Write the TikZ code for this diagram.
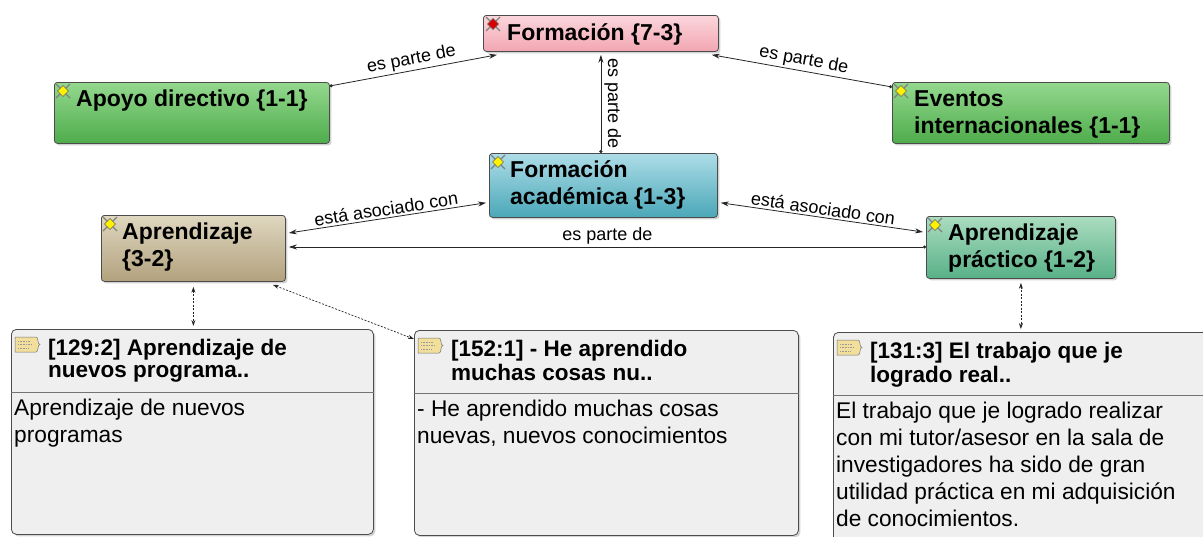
\documentclass[tikz,border=0pt]{standalone}
\usepackage{fontspec}
\setmainfont{Liberation Sans}
\usetikzlibrary{arrows.meta,shadows}
\definecolor{pinkT}{HTML}{FBD6DC}
\definecolor{pinkB}{HTML}{F2A6B2}
\definecolor{greenT}{HTML}{94D88E}
\definecolor{greenB}{HTML}{4EAC4B}
\definecolor{blueT}{HTML}{ADDDE7}
\definecolor{blueB}{HTML}{4AA7B8}
\definecolor{tanT}{HTML}{DFD7C0}
\definecolor{tanB}{HTML}{B2A17D}
\definecolor{seaT}{HTML}{ABDCC0}
\definecolor{seaB}{HTML}{58B188}
\definecolor{quoteG}{HTML}{EFEFEF}
\definecolor{quoteY}{HTML}{F3DF9C}
\newcommand{\codeicon}[2]{%
  \begin{scope}[shift={(#1)}]
    \draw[black!50, line width=1.2pt] (-7,-7) -- (7,7) (7,-7) -- (-7,7);
    \filldraw[fill=#2, draw=black!60, line width=.5pt] (0,-5.5) -- (5.5,0) -- (0,5.5) -- (-5.5,0) -- cycle;
  \end{scope}}
\newcommand{\quoteicon}[1]{%
  \begin{scope}[shift={(#1)}]
    \filldraw[fill=quoteY, draw=black!55, line width=.5pt] (0,0) -- (21,0) .. controls (24,0) and (22,7.5) .. (25,7.5)
      .. controls (22,7.5) and (24,15) .. (21,15) -- (0,15) -- cycle;
    \draw[black!40, line width=.5pt, dash pattern=on .8pt off .8pt] (3,4) -- (15,4) (3,7.5) -- (17,7.5) (3,11) -- (13,11);
  \end{scope}}

\begin{document}
\begin{tikzpicture}[x=1pt, y=-1pt,
    box/.style={draw=black!70, line width=.8pt, rounded corners=3pt, anchor=north west, inner sep=0pt,
      drop shadow={shadow xshift=2pt, shadow yshift=-2pt, opacity=.35}},
    code/.style 2 args={box, top color=#1, bottom color=#2},
    quote/.style={box, rounded corners=5pt, fill=quoteG},
    codetext/.style={anchor=north west, inner sep=0pt, align=left, font=\fontsize{23}{27}\selectfont\bfseries},
    qtitle/.style={anchor=north west, inner sep=0pt, align=left, font=\fontsize{22.5}{22}\selectfont\bfseries},
    qbody/.style={anchor=north west, inner sep=0pt, align=left, font=\fontsize{22.7}{27}\selectfont},
    link/.style={draw=black!85, line width=.8pt},
    part/.style={link, {Circle[length=3pt]}-{Stealth[length=8pt, width=5pt]}},
    partback/.style={link, {Stealth[length=8pt, width=5pt]}-{Circle[length=3pt]}},
    assoc/.style={link, {Stealth[length=8pt, width=5pt]}-{Stealth[length=8pt, width=5pt]}},
    dots/.style={draw=black!85, line width=.7pt, dash pattern=on 2pt off 1.5pt,
      {Stealth[length=6pt, width=4pt]}-{Stealth[length=6pt, width=4pt]}},
    lab/.style={font=\fontsize{18}{20}\selectfont, midway, sloped, above, inner sep=2pt}]
    \fill[white] (0,0) rectangle (1203,536);
    \useasboundingbox (0,0) rectangle (1203,536);

    % codes
    \node[code={pinkT}{pinkB}, minimum width=235pt, minimum height=36pt] (forma) at (483,15) {};
    \node[code={greenT}{greenB}, minimum width=275pt, minimum height=61pt] (apoyo) at (54,82) {};
    \node[code={greenT}{greenB}, minimum width=277pt, minimum height=61pt] (eventos) at (892,82) {};
    \node[code={blueT}{blueB}, minimum width=228pt, minimum height=64pt] (forac) at (489,153) {};
    \node[code={tanT}{tanB}, minimum width=184pt, minimum height=66pt] (aprend) at (101,215) {};
    \node[code={seaT}{seaB}, minimum width=189pt, minimum height=62pt] (aprpra) at (926,216) {};

    \node[codetext] (formaT) at ([xshift=24pt, yshift=-6pt]forma.north west) {\strut Formación \{7-3\}};
    \node[codetext] (apoyoT) at ([xshift=22pt, yshift=-5pt]apoyo.north west) {\strut Apoyo directivo \{1-1\}};
    \node[codetext] (eventosT) at ([xshift=22pt, yshift=-5pt]eventos.north west) {\strut Eventos\\internacionales \{1-1\}};
    \node[codetext] (foracT) at ([xshift=21pt, yshift=-5pt]forac.north west) {\strut Formación\\académica \{1-3\}};
    \node[codetext] (aprendT) at ([xshift=21pt, yshift=-5pt]aprend.north west) {\strut Aprendizaje\\\{3-2\}};
    \node[codetext] (aprpraT) at ([xshift=22pt, yshift=-5pt]aprpra.north west) {\strut Aprendizaje\\práctico \{1-2\}};

    \codeicon{[xshift=10pt, yshift=-9pt]forma.north west}{red!85!black}
    \codeicon{[xshift=9pt, yshift=-9pt]apoyo.north west}{yellow}
    \codeicon{[xshift=9pt, yshift=-9pt]eventos.north west}{yellow}
    \codeicon{[xshift=9pt, yshift=-9pt]forac.north west}{yellow}
    \codeicon{[xshift=9pt, yshift=-9pt]aprend.north west}{yellow}
    \codeicon{[xshift=9pt, yshift=-9pt]aprpra.north west}{yellow}

    % quotations
    \node[quote, minimum width=362pt, minimum height=205pt] (q1) at (11,329) {};
    \node[quote, minimum width=384pt, minimum height=205pt] (q2) at (414,330) {};
    \node[quote, minimum width=380pt, minimum height=212pt] (q3) at (833,332) {};
    \foreach \q in {q1,q2,q3} {
      \draw[black!55, line width=.8pt] ([yshift=-63pt]\q.north west) -- ([yshift=-63pt]\q.north east);
      \quoteicon{[xshift=4pt, yshift=-8pt]\q.north west}
    }

    \node[qtitle] (q1T) at ([xshift=37pt, yshift=-10pt]q1.north west) {\strut[129:2] Aprendizaje de\\nuevos programa..};
    \node[qtitle] (q2T) at ([xshift=37pt, yshift=-10pt]q2.north west) {\strut[152:1] - He aprendido\\muchas cosas nu..};
    \node[qtitle] (q3T) at ([xshift=37pt, yshift=-10pt]q3.north west) {\strut[131:3] El trabajo que je\\logrado real..};
    \node[qbody] (q1B) at ([xshift=3pt, yshift=-67pt]q1.north west) {\strut Aprendizaje de nuevos\\programas};
    \node[qbody] (q2B) at ([xshift=3pt, yshift=-67pt]q2.north west) {\strut - He aprendido muchas cosas\\nuevas, nuevos conocimientos};
    \node[qbody] (q3B) at ([xshift=3pt, yshift=-67pt]q3.north west) {\strut El trabajo que je logrado realizar\\con mi tutor/asesor en la sala de\\investigadores ha sido de gran\\utilidad práctica en mi adquisición\\de conocimientos.};

    % links
    \draw[part] ([yshift=-4pt]apoyo.north east) -- ([xshift=14pt, yshift=-3pt]forma.south west) node[lab] {es parte de};
    \draw[partback] ([xshift=-7pt, yshift=-3pt]forma.south east) -- ([yshift=-5pt]eventos.north west) node[lab] {es parte de};
    \draw[partback] ([yshift=-3pt]forma.south) -- (forma.south |- forac.north)
      node[midway, rotate=-90, anchor=south, inner sep=3pt, font=\fontsize{18}{20}\selectfont] {es parte de};
    \draw[assoc] ([xshift=3pt, yshift=-18pt]aprend.north east) -- ([xshift=-3pt, yshift=15pt]forac.south west) node[lab] {está asociado con};
    \draw[assoc] ([xshift=3pt, yshift=15pt]forac.south east) -- ([xshift=-3pt, yshift=-16pt]aprpra.north west) node[lab] {está asociado con};
    \draw[partback] ([xshift=3pt, yshift=-32pt]aprend.north east) -- ([yshift=-31pt]aprpra.north west) node[lab] {es parte de};
    \draw[dots] ([yshift=-5pt]aprend.south) -- ([yshift=3pt]aprend.south |- q1.north);
    \draw[dots] ([xshift=-13pt, yshift=-3pt]aprend.south east) -- ([yshift=-9pt]q2.north west);
    \draw[dots] ([yshift=-4pt]aprpra.south) -- ([yshift=3pt]aprpra.south |- q3.north);
\end{tikzpicture}
\end{document}
